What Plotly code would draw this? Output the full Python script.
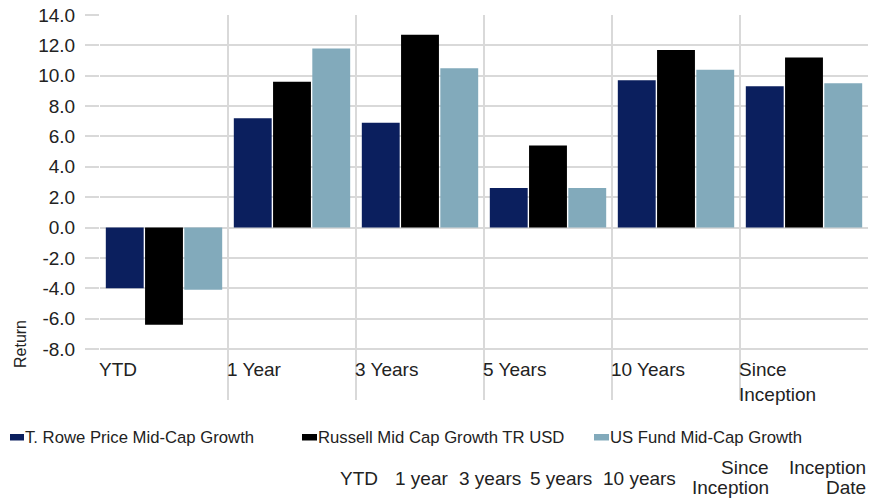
import plotly.graph_objects as go

categories = ["YTD", "1 Year", "3 Years", "5 Years", "10 Years", "Since<br>Inception"]
series_names = ["T. Rowe Price Mid-Cap Growth", "Russell Mid Cap Growth TR USD", "US Fund Mid-Cap Growth"]
trp = [-4.0, 7.2, 6.9, 2.6, 9.7, 9.3]
russell = [-6.4, 9.6, 12.7, 5.4, 11.7, 11.2]
fund = [-4.1, 11.8, 10.5, 2.6, 10.4, 9.5]
colors = ["#0b1f5e", "#000000", "#82aabb"]
y_ticks = [14, 12, 10, 8, 6, 4, 2, 0, -2, -4, -6, -8]
table_headers = ["YTD", "1 year", "3 years", "5 years", "10 years", "Since<br>Inception", "Inception<br>Date"]

FONT = "Liberation Sans, Arial, sans-serif"
TXT = "#222222"
GRID = "#d9d9d9"

W, H = 874, 499
L, R, T, B = 100, 6, 15, 99
PW, PH = W - L - R, H - T - B

def px(x):
    return (x - L) / PW

def py(y):
    return (H - B - y) / PH

xs = list(range(len(categories)))
fig = go.Figure()
for name, vals, col in zip(series_names, [trp, russell, fund], colors):
    fig.add_trace(go.Bar(x=xs, y=vals, name=name, marker=dict(color=col, line=dict(width=0)),
                         showlegend=False))

annotations = []
for i, c in enumerate(categories):
    annotations.append(dict(x=i - 0.5, y=-8, xref="x", yref="y", text=c, showarrow=False,
                            xanchor="left", yanchor="top", align="left", yshift=-8, xshift=-3,
                            font=dict(family=FONT, size=19, color=TXT)))

# y-axis title
annotations.append(dict(x=px(20), y=py(344), xref="paper", yref="paper", text="Return",
                        textangle=-90, showarrow=False, xanchor="center", yanchor="middle",
                        font=dict(family=FONT, size=16, color=TXT)))

# custom legend
shapes = []
leg_rects = [(10, 24), (302, 317), (594, 609)]
for (x0, x1), name, col in zip(leg_rects, series_names, colors):
    shapes.append(dict(type="rect", xref="paper", yref="paper", x0=px(x0), x1=px(x1),
                       y0=py(440.5), y1=py(434), fillcolor=col, line=dict(width=0)))
    annotations.append(dict(x=px(x1 - 1.5), y=py(437.5), xref="paper", yref="paper", text=name,
                            showarrow=False, xanchor="left", yanchor="middle",
                            font=dict(family=FONT, size=16.7, color=TXT)))

# table header row (each line placed on its own)
header_right = [378, 448, 521, 592, 676, 769, 866]
for t, xr in zip(table_headers, header_right):
    lines = t.split("<br>")
    if len(lines) == 1:
        ys = [478]
    else:
        ys = [467, 487]
    for ln, yy in zip(lines, ys):
        annotations.append(dict(x=px(xr + 2), y=py(yy), xref="paper", yref="paper",
                                text=ln, showarrow=False, xanchor="right", yanchor="middle",
                                align="right", font=dict(family=FONT, size=19, color=TXT)))

fig.update_layout(
    width=W, height=H,
    margin=dict(l=L, r=R, t=T, b=B, pad=0),
    paper_bgcolor="white", plot_bgcolor="white",
    barmode="group", bargap=0.08, bargroupgap=0.035,
    annotations=annotations, shapes=shapes,
    showlegend=False,
    xaxis=dict(range=[-0.5, 5.5], tickvals=[i - 0.5 for i in range(len(categories) + 1)],
               showticklabels=False, showgrid=True, gridcolor=GRID, gridwidth=1.5,
               zeroline=False, showline=False, ticks=""),
    yaxis=dict(range=[-11.36, 14], tickvals=y_ticks, ticktext=[f"{v:.1f}" for v in y_ticks],
               showgrid=True, gridcolor=GRID, gridwidth=1.5, zeroline=False, showline=False,
               ticks="outside", ticklen=14, tickcolor=GRID, tickwidth=1.5,
               ticklabelstandoff=6,
               tickfont=dict(family=FONT, size=19, color=TXT)),
)

fig.write_html("out.html", config={"displayModeBar": False},
               post_script="document.body.style.margin='0';document.body.style.overflow='hidden';")
